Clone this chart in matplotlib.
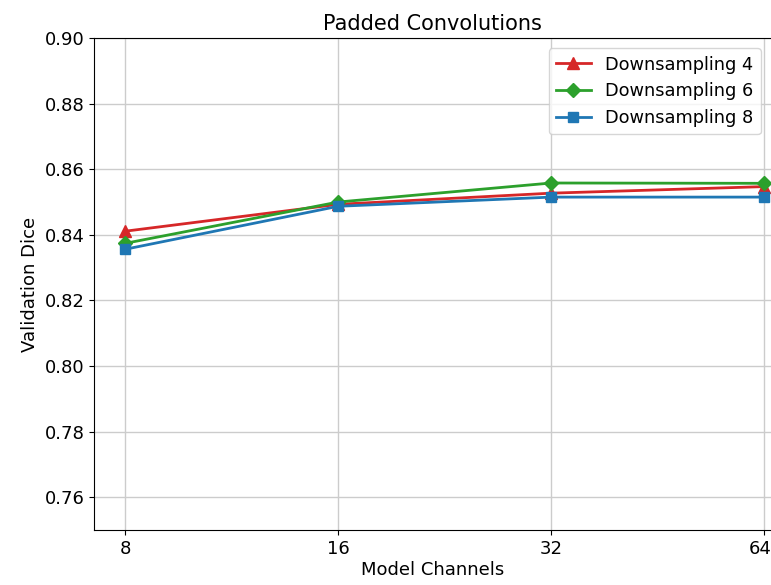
import matplotlib
matplotlib.use("Agg")
import matplotlib.pyplot as plt
from matplotlib.ticker import FixedLocator, FixedFormatter, NullLocator
import matplotlib.transforms as mtransforms

plt.rcParams['font.stretch'] = 'semi-condensed'

channels = [8, 16, 32, 64]
ds4 = [0.8411, 0.8493, 0.8527, 0.8547]
ds6 = [0.8374, 0.8500, 0.8558, 0.8557]
ds8 = [0.8356, 0.8487, 0.8515, 0.8515]
yticks = [0.76, 0.78, 0.80, 0.82, 0.84, 0.86, 0.88, 0.90]

fig = plt.figure(figsize=(7.71, 5.85), dpi=100)
ax = fig.add_axes([0.122, 0.094, 0.879, 0.841])

ax.plot(channels, ds4, color='#d62728', marker='^', markersize=8, linewidth=2, label='Downsampling 4')
ax.plot(channels, ds6, color='#2ca02c', marker='D', markersize=7, linewidth=2, label='Downsampling 6')
ax.plot(channels, ds8, color='#1f77b4', marker='s', markersize=7, linewidth=2, label='Downsampling 8')

ax.set_xscale('log', base=2)
ax.xaxis.set_major_locator(FixedLocator(channels))
ax.xaxis.set_major_formatter(FixedFormatter([str(c) for c in channels]))
ax.xaxis.set_minor_locator(NullLocator())
ax.set_xlim(8 / 2 ** 0.146, 64 * 2 ** 0.035)
ax.set_ylim(0.75, 0.90)
ax.set_yticks(yticks)
ax.set_yticklabels([f"{v:.2f}" for v in yticks])
ax.tick_params(labelsize=13)
ax.grid(True, color='#cccccc', linewidth=1)
ax.set_axisbelow(True)

ax.set_xlabel('Model Channels', fontsize=13, labelpad=2)
ax.set_ylabel('Validation Dice', fontsize=13)
ax.set_title('Padded Convolutions', fontsize=15)
ax.legend(loc='upper right', fontsize=12.8, bbox_to_anchor=(0.997, 0.997))

fig.canvas.draw()
last = ax.get_xticklabels()[-1]
last.set_transform(last.get_transform() + mtransforms.ScaledTranslation(-4 / 100, 0, fig.dpi_scale_trans))

fig.savefig('out.png', dpi=100)
